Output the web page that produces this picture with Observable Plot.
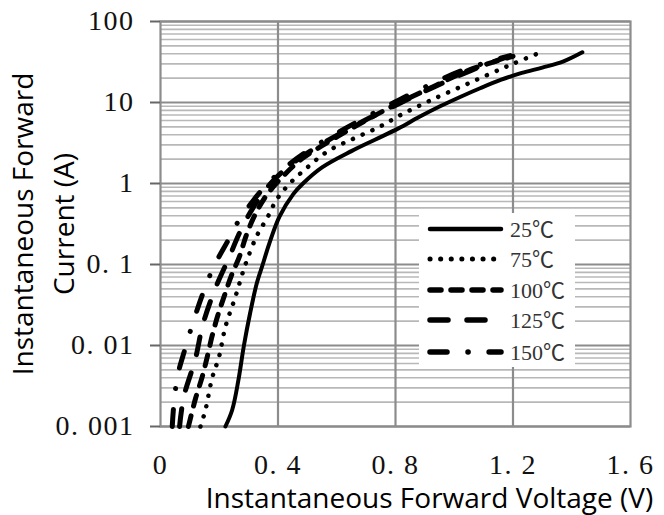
<!DOCTYPE html>
<html><head><meta charset="utf-8">
<script src="https://cdn.jsdelivr.net/npm/d3@7"></script>
<script src="https://cdn.jsdelivr.net/npm/@observablehq/plot@0.6"></script>
<style>
html,body{margin:0;padding:0;background:#fff;}
#chart{width:664px;height:515px;}
</style></head><body><div id="chart"></div>
<script>
// Tick values and labels
const yTicks = [0.001, 0.01, 0.1, 1, 10, 100];
const yTickLabels = ["0. 001", "0. 01", "0. 1", "1", "10", "100"];
const xTicks = [0, 0.4, 0.8, 1.2, 1.6];
const xTickLabels = ["0", "0. 4", "0. 8", "1. 2", "1. 6"];
const xGrid = [0.4, 0.8, 1.2];
const seriesNames = ["25℃", "75℃", "100℃", "125℃", "150℃"];

// [voltage (V), current (A)]
const curve25 = [[0.221,0.001],[0.244,0.0016],[0.265,0.0037],[0.284,0.01],[0.305,0.025],[0.328,0.059],[0.348,0.1],[0.37,0.18],[0.405,0.39],[0.452,0.74],[0.485,1.0],[0.55,1.58],[0.65,2.51],[0.73,3.47],[0.81,4.79],[0.88,6.61],[0.95,8.91],[1.02,11.7],[1.09,15.1],[1.16,19.1],[1.23,23.2],[1.30,27.0],[1.37,32.0],[1.436,41.7]];
const curve75 = [[0.136,0.001],[0.153,0.0016],[0.176,0.004],[0.199,0.0072],[0.221,0.017],[0.255,0.04],[0.289,0.1],[0.329,0.23],[0.364,0.38],[0.395,0.63],[0.44,1.0],[0.5,1.58],[0.57,2.51],[0.655,3.55],[0.745,5.0],[0.82,7.08],[0.919,10.6],[1.053,17.5],[1.186,28.6],[1.283,40.0]];
const curve100 = [[0.095,0.001],[0.119,0.0022],[0.142,0.0041],[0.159,0.0072],[0.176,0.0132],[0.195,0.0234],[0.218,0.0417],[0.241,0.0724],[0.269,0.126],[0.292,0.229],[0.32,0.398],[0.36,0.708],[0.42,1.26],[0.48,2.0],[0.565,3.16],[0.66,5.01],[0.735,7.08],[0.815,10.0],[0.93,15.8],[1.05,25.1],[1.2,37.2]];
const curve125 = [[0.065,0.001],[0.079,0.0023],[0.119,0.0069],[0.144,0.018],[0.184,0.048],[0.235,0.126],[0.27,0.25],[0.315,0.5],[0.375,1.0],[0.45,1.78],[0.555,3.16],[0.68,5.62],[0.82,10.0],[0.935,15.8],[1.06,25.1],[1.17,35.5]];
const curve150 = [[0.04,0.001],[0.045,0.0018],[0.058,0.0042],[0.082,0.0087],[0.113,0.0204],[0.144,0.0437],[0.181,0.0933],[0.229,0.195],[0.268,0.355],[0.318,0.631],[0.365,1.0],[0.425,1.58],[0.5,2.51],[0.59,3.98],[0.69,6.31],[0.795,10.0],[0.905,15.8],[1.03,25.1],[1.19,38.0]];

const curves = [curve25, curve75, curve100, curve125, curve150];
const dashes = [null, "0.1 10.5", "11 10", "18 19", "17 21 0.1 21"];
const widths = [4, 4.5, 5, 5, 5];

const minorTicks = d3.scaleLog().domain([0.001, 100]).ticks().filter(t => !yTicks.some(m => Math.abs(m - t) / m < 1e-9));
const labelFor = (vals, labels) => d => labels[vals.findIndex(v => Math.abs(v - d) < 1e-9)];

const lineMarks = curves.map((c, i) => Plot.line(c, {
  x: d => d[0], y: d => d[1], curve: "catmull-rom",
  stroke: "#000", strokeWidth: widths[i], strokeLinecap: "round", strokeLinejoin: "round",
  strokeDasharray: dashes[i]
}));

const plot = Plot.plot({
  width: 664, height: 515,
  marginLeft: 160, marginRight: 34, marginTop: 21, marginBottom: 89,
  style: {background: "#fff", overflow: "visible"},
  x: {domain: [0, 1.6]},
  y: {type: "log", domain: [0.001, 100]},
  marks: [
    Plot.ruleY(minorTicks, {stroke: "#b8b8b8", strokeWidth: 1.6}),
    Plot.ruleY(yTicks, {stroke: "#8c8c8c", strokeWidth: 2.2}),
    Plot.ruleX(xGrid, {stroke: "#8c8c8c", strokeWidth: 2.2}),
    Plot.frame({stroke: "#8c8c8c", strokeWidth: 2.2}),
    Plot.axisY(yTicks, {tickFormat: labelFor(yTicks, yTickLabels), tickSize: 10, tickPadding: 16,
      stroke: "#666", strokeWidth: 2, fill: "#111", fontSize: 28, fontFamily: "Liberation Serif", label: null}),
    Plot.axisX(xTicks, {tickFormat: labelFor(xTicks, xTickLabels), tickSize: 0, tickPadding: 28,
      fill: "#111", fontSize: 28, fontFamily: "Liberation Serif", label: null}),
    ...lineMarks,
    Plot.text(["Instantaneous Forward Voltage (V)"], {text: d => d, frameAnchor: "bottom", lineAnchor: "bottom",
      textAnchor: "middle", dx: 34, dy: 81, fontSize: 28, fontFamily: "Open Sans", fill: "#000"}),
    Plot.text(["Instantaneous Forward\nCurrent (A)"], {text: d => d, frameAnchor: "left", lineAnchor: "bottom",
      textAnchor: "middle", rotate: -90, dx: -87, dy: 0, lineHeight: 1.43, fontSize: 28, fontFamily: "Open Sans", fill: "#000"})
  ]
});

const svg = d3.select(plot);
svg.selectAll('g[aria-label="y-axis tick label"] text, g[aria-label="x-axis tick label"] text').style("letter-spacing", "1.5px");

// Legend
const lg = svg.append("g").attr("transform", "translate(419,213)");
lg.append("rect").attr("width", 156).attr("height", 154).attr("fill", "#fff");
const rowY = [16, 46, 77, 107, 139];
seriesNames.forEach((name, i) => {
  lg.append("line").attr("x1", 11).attr("x2", 82).attr("y1", rowY[i]).attr("y2", rowY[i])
    .attr("stroke", "#000").attr("stroke-width", widths[i] + 0.5).attr("stroke-linecap", "round")
    .attr("stroke-dasharray", dashes[i]);
  lg.append("text").attr("x", 91).attr("y", rowY[i] + 8).attr("text-anchor", "start").text(name)
    .attr("font-family", "Liberation Serif, 'Noto Sans CJK SC'").attr("font-size", 22).attr("fill", "#333");
});

document.getElementById("chart").appendChild(plot);
</script>
</body></html>
